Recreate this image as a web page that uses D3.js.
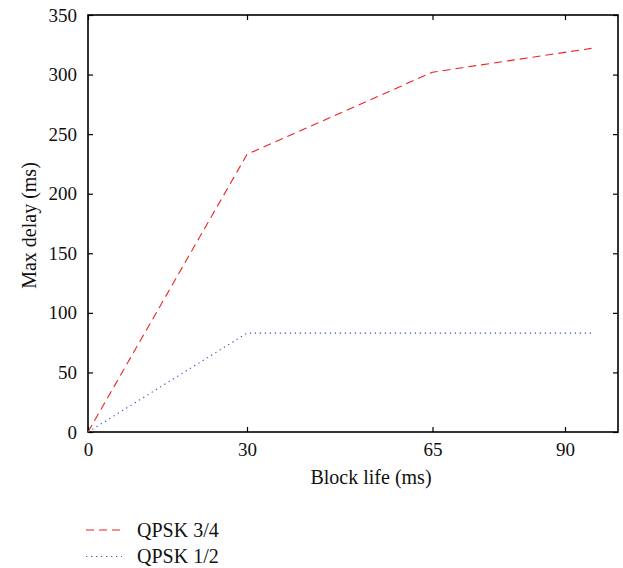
<!DOCTYPE html>
<html>
<head>
<meta charset="utf-8">
<script src="https://cdn.jsdelivr.net/npm/d3@7"></script>
<style>
  html, body { margin: 0; padding: 0; background: #fff; }
  svg { display: block; }
  text { font-family: "Liberation Serif", "DejaVu Serif", serif; fill: #111; }
</style>
</head>
<body>
<svg id="chart" width="623" height="568"></svg>
<script>
// Block life (ms) on x, max delay (ms) on y
const blockLife = [0, 30, 65, 95];
const delayQpsk34 = [0, 233, 302, 322];
const delayQpsk12 = [0, 83, 83, 83];
const xTicks = [0, 30, 65, 90];
const yTicks = [0, 50, 100, 150, 200, 250, 300, 350];
const seriesNames = ["QPSK 3/4", "QPSK 1/2"];

const W = 623, H = 568;
const margin = { left: 88, top: 15, right: 5, bottom: 136 };
const plotW = W - margin.left - margin.right;   // 530
const plotH = H - margin.top - margin.bottom;   // 417

const svg = d3.select("#chart");
const g = svg.append("g").attr("transform", `translate(${margin.left},${margin.top})`);

const x = d3.scaleLinear().domain([0, 100]).range([0, plotW]);
const y = d3.scaleLinear().domain([0, 350]).range([plotH, 0]);

const tickLen = 5;

// Bottom axis with labels, ticks pointing inward
const xAxis = g.append("g").attr("transform", `translate(0,${plotH})`)
  .call(d3.axisBottom(x).tickValues(xTicks).tickSizeInner(-tickLen).tickSizeOuter(0).tickPadding(11));
// Top mirror ticks
const xAxisTop = g.append("g")
  .call(d3.axisTop(x).tickValues(xTicks).tickSizeInner(-tickLen).tickSizeOuter(0).tickFormat(""));
// Left axis with labels
const yAxis = g.append("g")
  .call(d3.axisLeft(y).tickValues(yTicks).tickSizeInner(-tickLen).tickSizeOuter(0).tickPadding(11));
// Right mirror ticks
const yAxisRight = g.append("g").attr("transform", `translate(${plotW},0)`)
  .call(d3.axisRight(y).tickValues(yTicks).tickSizeInner(-tickLen).tickSizeOuter(0).tickFormat(""));

[xAxis, xAxisTop, yAxis, yAxisRight].forEach(a => {
  a.select(".domain").remove();
  a.selectAll("line").attr("stroke", "#000").attr("stroke-width", 1.2);
  a.selectAll("text").style("font-family", '"Liberation Serif", serif').style("font-size", "19px").attr("fill", "#111");
});

// Frame
g.append("rect").attr("x", 0).attr("y", 0).attr("width", plotW).attr("height", plotH)
  .attr("fill", "none").attr("stroke", "#000").attr("stroke-width", 1.6);

// Series lines
const line = d3.line().x(d => x(d[0])).y(d => y(d[1]));
const series = [
  { name: seriesNames[0], values: delayQpsk34, color: "#ee2222", dash: "8,5" },
  { name: seriesNames[1], values: delayQpsk12, color: "#3a55b8", dash: "1.3,3.7" }
];
series.forEach(s => {
  g.append("path")
    .datum(blockLife.map((b, i) => [b, s.values[i]]))
    .attr("d", line)
    .attr("fill", "none")
    .attr("stroke", s.color)
    .attr("stroke-width", 1.1)
    .attr("stroke-dasharray", s.dash);
});

// Axis titles
svg.append("text")
  .attr("x", 371).attr("y", 484)
  .attr("text-anchor", "middle").style("font-size", "20px")
  .text("Block life (ms)");
svg.append("text")
  .attr("transform", `translate(36,${margin.top + plotH / 2 + 2}) rotate(-90)`)
  .attr("text-anchor", "middle").style("font-size", "20px")
  .text("Max delay (ms)");

// Legend
const legend = svg.append("g");
series.forEach((s, i) => {
  const ly = 530 + i * 26.5;
  legend.append("line")
    .attr("x1", 86).attr("x2", 122).attr("y1", ly).attr("y2", ly)
    .attr("stroke", s.color).attr("stroke-width", 1.1).attr("stroke-dasharray", s.dash);
  legend.append("text")
    .attr("x", 137).attr("y", ly + 6.5)
    .style("font-size", "20px")
    .text(s.name);
});
</script>
</body>
</html>
